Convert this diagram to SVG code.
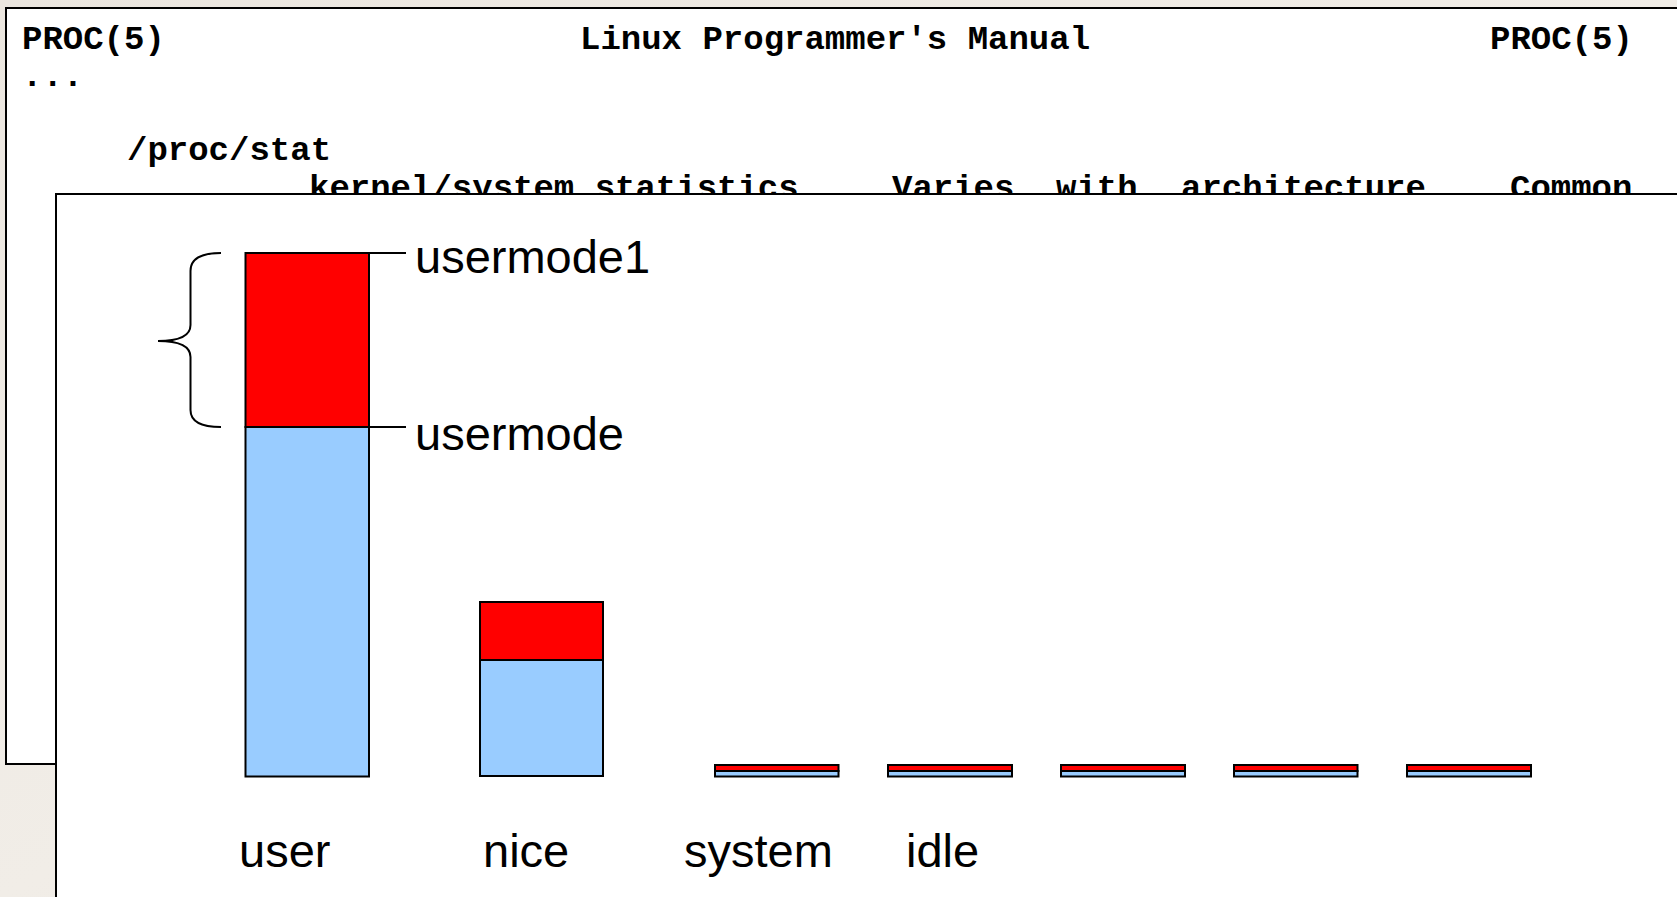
<svg xmlns="http://www.w3.org/2000/svg" width="1677" height="897" viewBox="0 0 1677 897">
  <defs>
    <style>
      .mono { font-family: "Liberation Mono", "Courier New", monospace; font-weight: bold; font-size: 34px; fill: #000; }
      .sans { font-family: "Liberation Sans", Arial, sans-serif; font-size: 47px; fill: #000; }
      .panel { fill: #fff; stroke: #000; stroke-width: 2; }
      .red { fill: #ff0000; stroke: #000; stroke-width: 2; }
      .blue { fill: #99ccff; stroke: #000; stroke-width: 2; }
      .conn { fill: none; stroke: #000; stroke-width: 2; }
    </style>
    <linearGradient id="bg" x1="0" y1="0" x2="1" y2="1">
      <stop offset="0" stop-color="#ebe6df"/>
      <stop offset="0.5" stop-color="#f1ede7"/>
      <stop offset="1" stop-color="#e9e4dc"/>
    </linearGradient>
  </defs>

  <rect x="0" y="0" width="1677" height="897" fill="url(#bg)"/>

  <g id="manual-page">
    <rect class="panel" x="6" y="8" width="1700" height="756"/>
    <text class="mono" x="22" y="49">PROC(5)</text>
    <text class="mono" x="580" y="49">Linux Programmer's Manual</text>
    <text class="mono" x="1490" y="49">PROC(5)</text>
    <text class="mono" x="22" y="86">...</text>
    <text class="mono" x="127" y="160">/proc/stat</text>
    <text class="mono" x="309" y="198">kernel/system statistics.</text>
    <text class="mono" x="892" y="198">Varies</text>
    <text class="mono" x="1056" y="198">with</text>
    <text class="mono" x="1181" y="198">architecture.</text>
    <text class="mono" x="1510" y="198">Common</text>
  </g>

  <g id="chart-panel">
    <rect class="panel" x="56" y="194" width="1700" height="800"/>
  </g>

  <g id="bar-user">
    <rect class="blue" x="245.5" y="427" width="123.5" height="349.5"/>
    <rect class="red" x="245.5" y="253" width="123.5" height="174"/>
  </g>
  <g id="bar-nice">
    <rect class="blue" x="480" y="660" width="123" height="116"/>
    <rect class="red" x="480" y="602" width="123" height="58"/>
  </g>
  <g id="bar-system">
    <rect class="blue" x="715" y="771" width="123.5" height="5.5"/>
    <rect class="red" x="715" y="765" width="123.5" height="6"/>
  </g>
  <g id="bar-idle">
    <rect class="blue" x="888" y="771" width="124" height="5.5"/>
    <rect class="red" x="888" y="765" width="124" height="6"/>
  </g>
  <g id="bar-5">
    <rect class="blue" x="1061" y="771" width="124" height="5.5"/>
    <rect class="red" x="1061" y="765" width="124" height="6"/>
  </g>
  <g id="bar-6">
    <rect class="blue" x="1234" y="771" width="123.5" height="5.5"/>
    <rect class="red" x="1234" y="765" width="123.5" height="6"/>
  </g>
  <g id="bar-7">
    <rect class="blue" x="1407" y="771" width="124" height="5.5"/>
    <rect class="red" x="1407" y="765" width="124" height="6"/>
  </g>

  <g id="labels">
    <text class="sans" x="415" y="273">usermode1</text>
    <text class="sans" x="415" y="450">usermode</text>
    <text class="sans" x="239" y="867">user</text>
    <text class="sans" x="483" y="867">nice</text>
    <text class="sans" x="684" y="867">system</text>
    <text class="sans" x="906" y="867">idle</text>
  </g>

  <g id="connectors">
    <line class="conn" x1="369" y1="253" x2="406" y2="253"/>
    <line class="conn" x1="369" y1="427" x2="406" y2="427"/>
    <path class="conn" d="M221,253 C201,253 190.5,259 190.5,271 L190.5,325 C190.5,335 180,341 158,341 C180,341 190.5,347 190.5,357 L190.5,410 C190.5,421 201,427 221,427"/>
  </g>
</svg>
